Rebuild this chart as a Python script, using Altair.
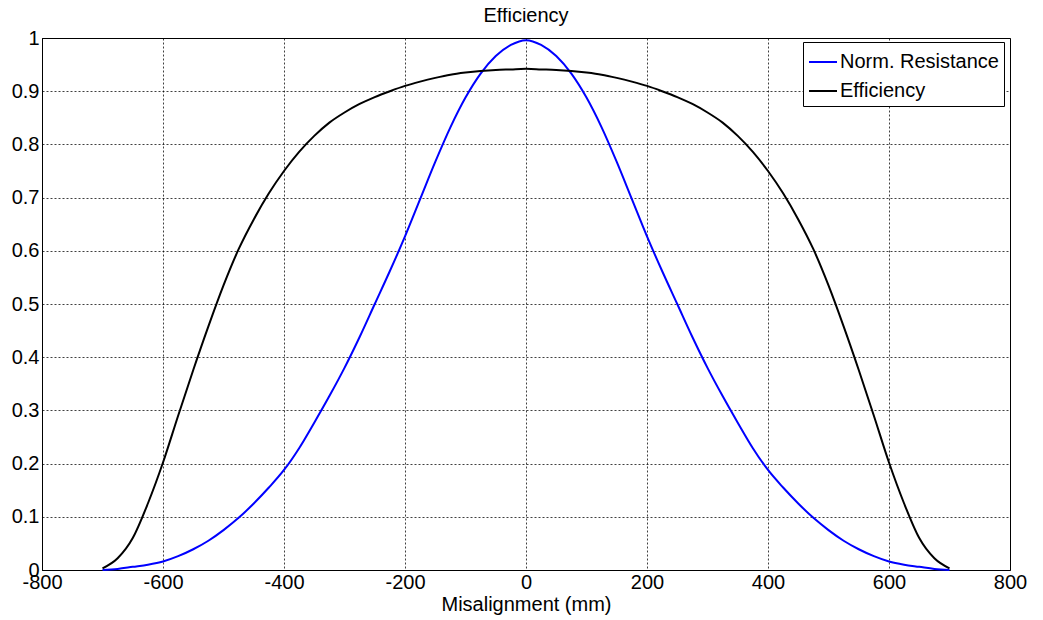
import altair as alt
import pandas as pd

misalignment_mm = [-700, -675, -650, -625, -600, -575, -550, -525, -500, -475,
                   -450, -425, -400, -375, -350, -325, -300, -275, -250, -225,
                   -200, -175, -150, -125, -100, -75, -50, -25, 0,
                   25, 50, 75, 100, 125, 150, 175, 200, 225, 250,
                   275, 300, 325, 350, 375, 400, 425, 450, 475, 500,
                   525, 550, 575, 600, 625, 650, 675, 700]

norm_resistance = [0.000, 0.002, 0.006, 0.010, 0.016, 0.026, 0.039, 0.055, 0.075, 0.098,
                   0.125, 0.155, 0.188, 0.229, 0.277, 0.327, 0.380, 0.438, 0.500, 0.562,
                   0.627, 0.697, 0.767, 0.832, 0.888, 0.933, 0.966, 0.987, 0.996,
                   0.987, 0.966, 0.933, 0.888, 0.832, 0.767, 0.697, 0.627, 0.562, 0.500,
                   0.438, 0.380, 0.327, 0.277, 0.229, 0.188, 0.155, 0.125, 0.098, 0.075,
                   0.055, 0.039, 0.026, 0.016, 0.010, 0.006, 0.002, 0.000]

efficiency = [0.003, 0.022, 0.060, 0.125, 0.202, 0.290, 0.376, 0.458, 0.535, 0.603,
              0.659, 0.708, 0.750, 0.786, 0.816, 0.841, 0.860, 0.876, 0.889, 0.900,
              0.910, 0.918, 0.925, 0.931, 0.935, 0.938, 0.940, 0.941, 0.942,
              0.941, 0.940, 0.938, 0.935, 0.931, 0.925, 0.918, 0.910, 0.900, 0.889,
              0.876, 0.860, 0.841, 0.816, 0.786, 0.750, 0.708, 0.659, 0.603, 0.535,
              0.458, 0.376, 0.290, 0.202, 0.125, 0.060, 0.022, 0.003]

series_names = ["Norm. Resistance", "Efficiency"]
series_colors = ["#0000ff", "#000000"]
x_ticks = [-800, -600, -400, -200, 0, 200, 400, 600, 800]
y_ticks = [0, 0.1, 0.2, 0.3, 0.4, 0.5, 0.6, 0.7, 0.8, 0.9, 1]

rows = []
for xv, rv, ev in zip(misalignment_mm, norm_resistance, efficiency):
    rows.append({"x": xv, "y": rv, "series": series_names[0]})
    rows.append({"x": xv, "y": ev, "series": series_names[1]})
df = pd.DataFrame(rows)

FONT = "Liberation Sans"

x_enc = alt.X("x:Q",
              scale=alt.Scale(domain=[-800, 800], nice=False, zero=False),
              axis=alt.Axis(title="Misalignment (mm)", values=x_ticks,
                            labelExpr="toString(datum.value)",
                            labelPadding=2, titlePadding=2, ticks=False,
                            labelFlush=False))
y_enc = alt.Y("y:Q",
              scale=alt.Scale(domain=[0, 1], nice=False),
              axis=alt.Axis(title=None, values=y_ticks, format="~g",
                            labelPadding=3, ticks=False))
color_enc = alt.Color("series:N",
                      scale=alt.Scale(domain=series_names, range=series_colors),
                      sort=series_names,
                      title=None,
                      legend=alt.Legend(orient="none", legendX=761, legendY=4,
                                        strokeColor="black", fillColor="white",
                                        padding=5, labelFontSize=20, labelFont=FONT,
                                        labelColor="black", symbolType="stroke",
                                        symbolSize=784, symbolStrokeWidth=2,
                                        labelOffset=2, rowPadding=4,
                                        cornerRadius=0))

base = alt.Chart(df)
blue = base.transform_filter(alt.datum.series == series_names[0]).mark_line(
    strokeWidth=2, interpolate="monotone").encode(x=x_enc, y=y_enc, color=color_enc)
black = base.transform_filter(alt.datum.series == series_names[1]).mark_line(
    strokeWidth=2, interpolate="monotone").encode(x=x_enc, y=y_enc, color=color_enc)

chart = alt.layer(blue, black).properties(
    width=968, height=532,
    background="white",
    title=alt.TitleParams("Efficiency", fontSize=20, fontWeight="normal",
                          font=FONT, color="black", offset=2, frame="group"),
    autosize=alt.AutoSizeParams(type="none"),
    padding={"left": 34, "top": 30, "right": 25, "bottom": 48},
).configure_view(
    stroke="black", strokeWidth=1
).configure_axis(
    labelFont=FONT, labelFontSize=20, labelColor="black",
    titleFont=FONT, titleFontSize=20, titleColor="black", titleFontWeight="normal",
    domainColor="black", domainWidth=1,
    gridColor="#000000", gridDash=[2, 2], gridWidth=1, gridOpacity=0.75,
)

chart.save("out.html", embed_options={"renderer": "svg", "actions": False})
